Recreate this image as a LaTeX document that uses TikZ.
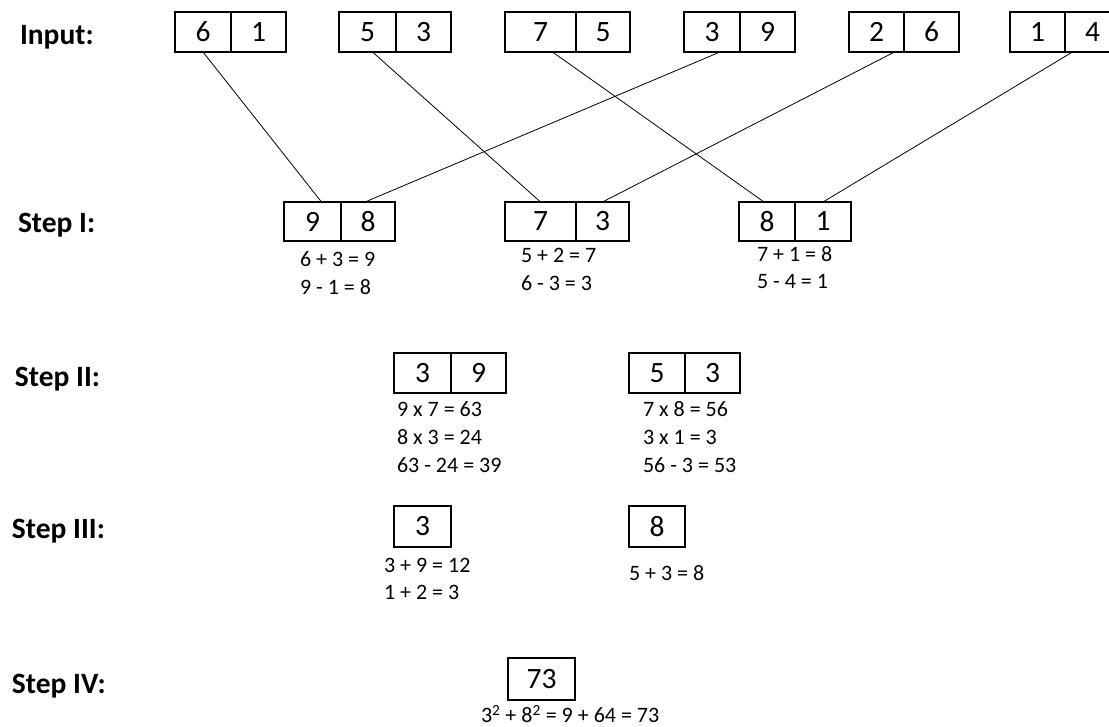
\documentclass[tikz,border=0pt]{standalone}
\usepackage{fontspec}
\setmainfont{Carlito}
\begin{document}
\begin{tikzpicture}[x=1pt, y=-1pt]
\tikzset{ inner sep=0pt, outer sep=0pt,
  cell/.style={draw, line width=1.6pt, minimum height=40pt, font=\fontsize{29.5}{34}\selectfont},
  eq/.style={anchor=west, font=\fontsize{22}{26}\selectfont},
  steplabel/.style={anchor=base west, font=\fontsize{29.5}{34}\selectfont\bfseries},
  link/.style={line width=0.8pt},
}

\useasboundingbox (0,0) rectangle (1109,727);

\node [steplabel] (LIn) at (20,45)  {Input:};
\node [steplabel] (LS1) at (18,233) {Step I:};
\node [steplabel] (LS2) at (15,387) {Step II:};
\node [steplabel] (LS3) at (12,538) {Step III:};
\node [steplabel] (LS4) at (12,693) {Step IV:};

% input pairs
\node [cell, minimum width=56pt] (I1a) at (203,32)    {6};
\node [cell, minimum width=55pt] (I1b) at (258.5,32)  {1};
\node [cell, minimum width=57pt] (I2a) at (367.5,32)  {5};
\node [cell, minimum width=55pt] (I2b) at (423.5,32)  {3};
\node [cell, minimum width=71pt] (I3a) at (540.5,32)  {7};
\node [cell, minimum width=54pt] (I3b) at (603,32)    {5};
\node [cell, minimum width=56pt] (I4a) at (712,32)    {3};
\node [cell, minimum width=55pt] (I4b) at (767.5,32)  {9};
\node [cell, minimum width=55pt] (I5a) at (876.5,32)  {2};
\node [cell, minimum width=55pt] (I5b) at (931.5,32)  {6};
\node [cell, minimum width=55pt] (I6a) at (1037.5,32) {1};
\node [cell, minimum width=55pt] (I6b) at (1092.5,32) {4};

% step I
\node [cell, minimum width=57pt, minimum height=39pt] (Aa) at (312.5,221.5) {9};
\node [cell, minimum width=54pt, minimum height=39pt] (Ab) at (368,221.5)   {8};
\node [cell, minimum width=71pt, minimum height=39pt] (Ba) at (540.5,221.5) {7};
\node [cell, minimum width=53pt, minimum height=39pt] (Bb) at (602.5,221.5) {3};
\node [cell, minimum width=56pt, minimum height=39pt] (Ca) at (767,221.5)   {8};
\node [cell, minimum width=56pt, minimum height=39pt] (Cb) at (823,221.5)   {1};

\draw [link] (I1a.south)               -- ([xshift=9pt]Aa.north);
\draw [link] ([xshift=5pt]I2a.south)   -- (Ba.north);
\draw [link] ([xshift=12pt]I3a.south)  -- ([xshift=-3pt]Ca.north);
\draw [link] ([xshift=8pt]I4a.south)   -- ([xshift=-3pt]Ab.north);
\draw [link] ([xshift=18pt]I5a.south)  -- (Bb.north);
\draw [link] ([xshift=-20pt]I6b.south) -- (Cb.north);

\node [eq] (eA1) at (300,259) {6 + 3 = 9};
\node [eq] (eA2) at (300,287) {9 - 1 = 8};
\node [eq] (eB1) at (521,255) {5 + 2 = 7};
\node [eq] (eB2) at (521,283) {6 - 3 = 3};
\node [eq] (eC1) at (757,254) {7 + 1 = 8};
\node [eq] (eC2) at (757,281) {5 - 4 = 1};

% step II
\node [cell, minimum width=57pt] (Da) at (422.5,373) {3};
\node [cell, minimum width=55pt] (Db) at (478.5,373) {9};
\node [cell, minimum width=56pt] (Ea) at (657,373)   {5};
\node [cell, minimum width=55pt] (Eb) at (712.5,373) {3};

\node [eq] (eD1) at (397,409) {9 x 7 = 63};
\node [eq] (eD2) at (397,437) {8 x 3 = 24};
\node [eq] (eD3) at (397,465) {63 - 24 = 39};
\node [eq] (eE1) at (643,409) {7 x 8 = 56};
\node [eq] (eE2) at (643,437) {3 x 1 = 3};
\node [eq] (eE3) at (643,465) {56 - 3 = 53};

% step III
\node [cell, minimum width=57pt, minimum height=41pt] (F) at (422.5,526.5) {3};
\node [cell, minimum width=56pt, minimum height=41pt] (G) at (657,526.5)   {8};

\node [eq] (eF1) at (384,565) {3 + 9 = 12};
\node [eq] (eF2) at (384,592) {1 + 2 = 3};
\node [eq] (eG1) at (629,573) {5 + 3 = 8};

% step IV
\node [cell, minimum width=67pt, minimum height=42pt] (H) at (541.5,679) {73};
\node [eq] (eH1) at (481,714) {3\textsuperscript{2} + 8\textsuperscript{2} = 9 + 64 = 73};
\end{tikzpicture}
\end{document}
